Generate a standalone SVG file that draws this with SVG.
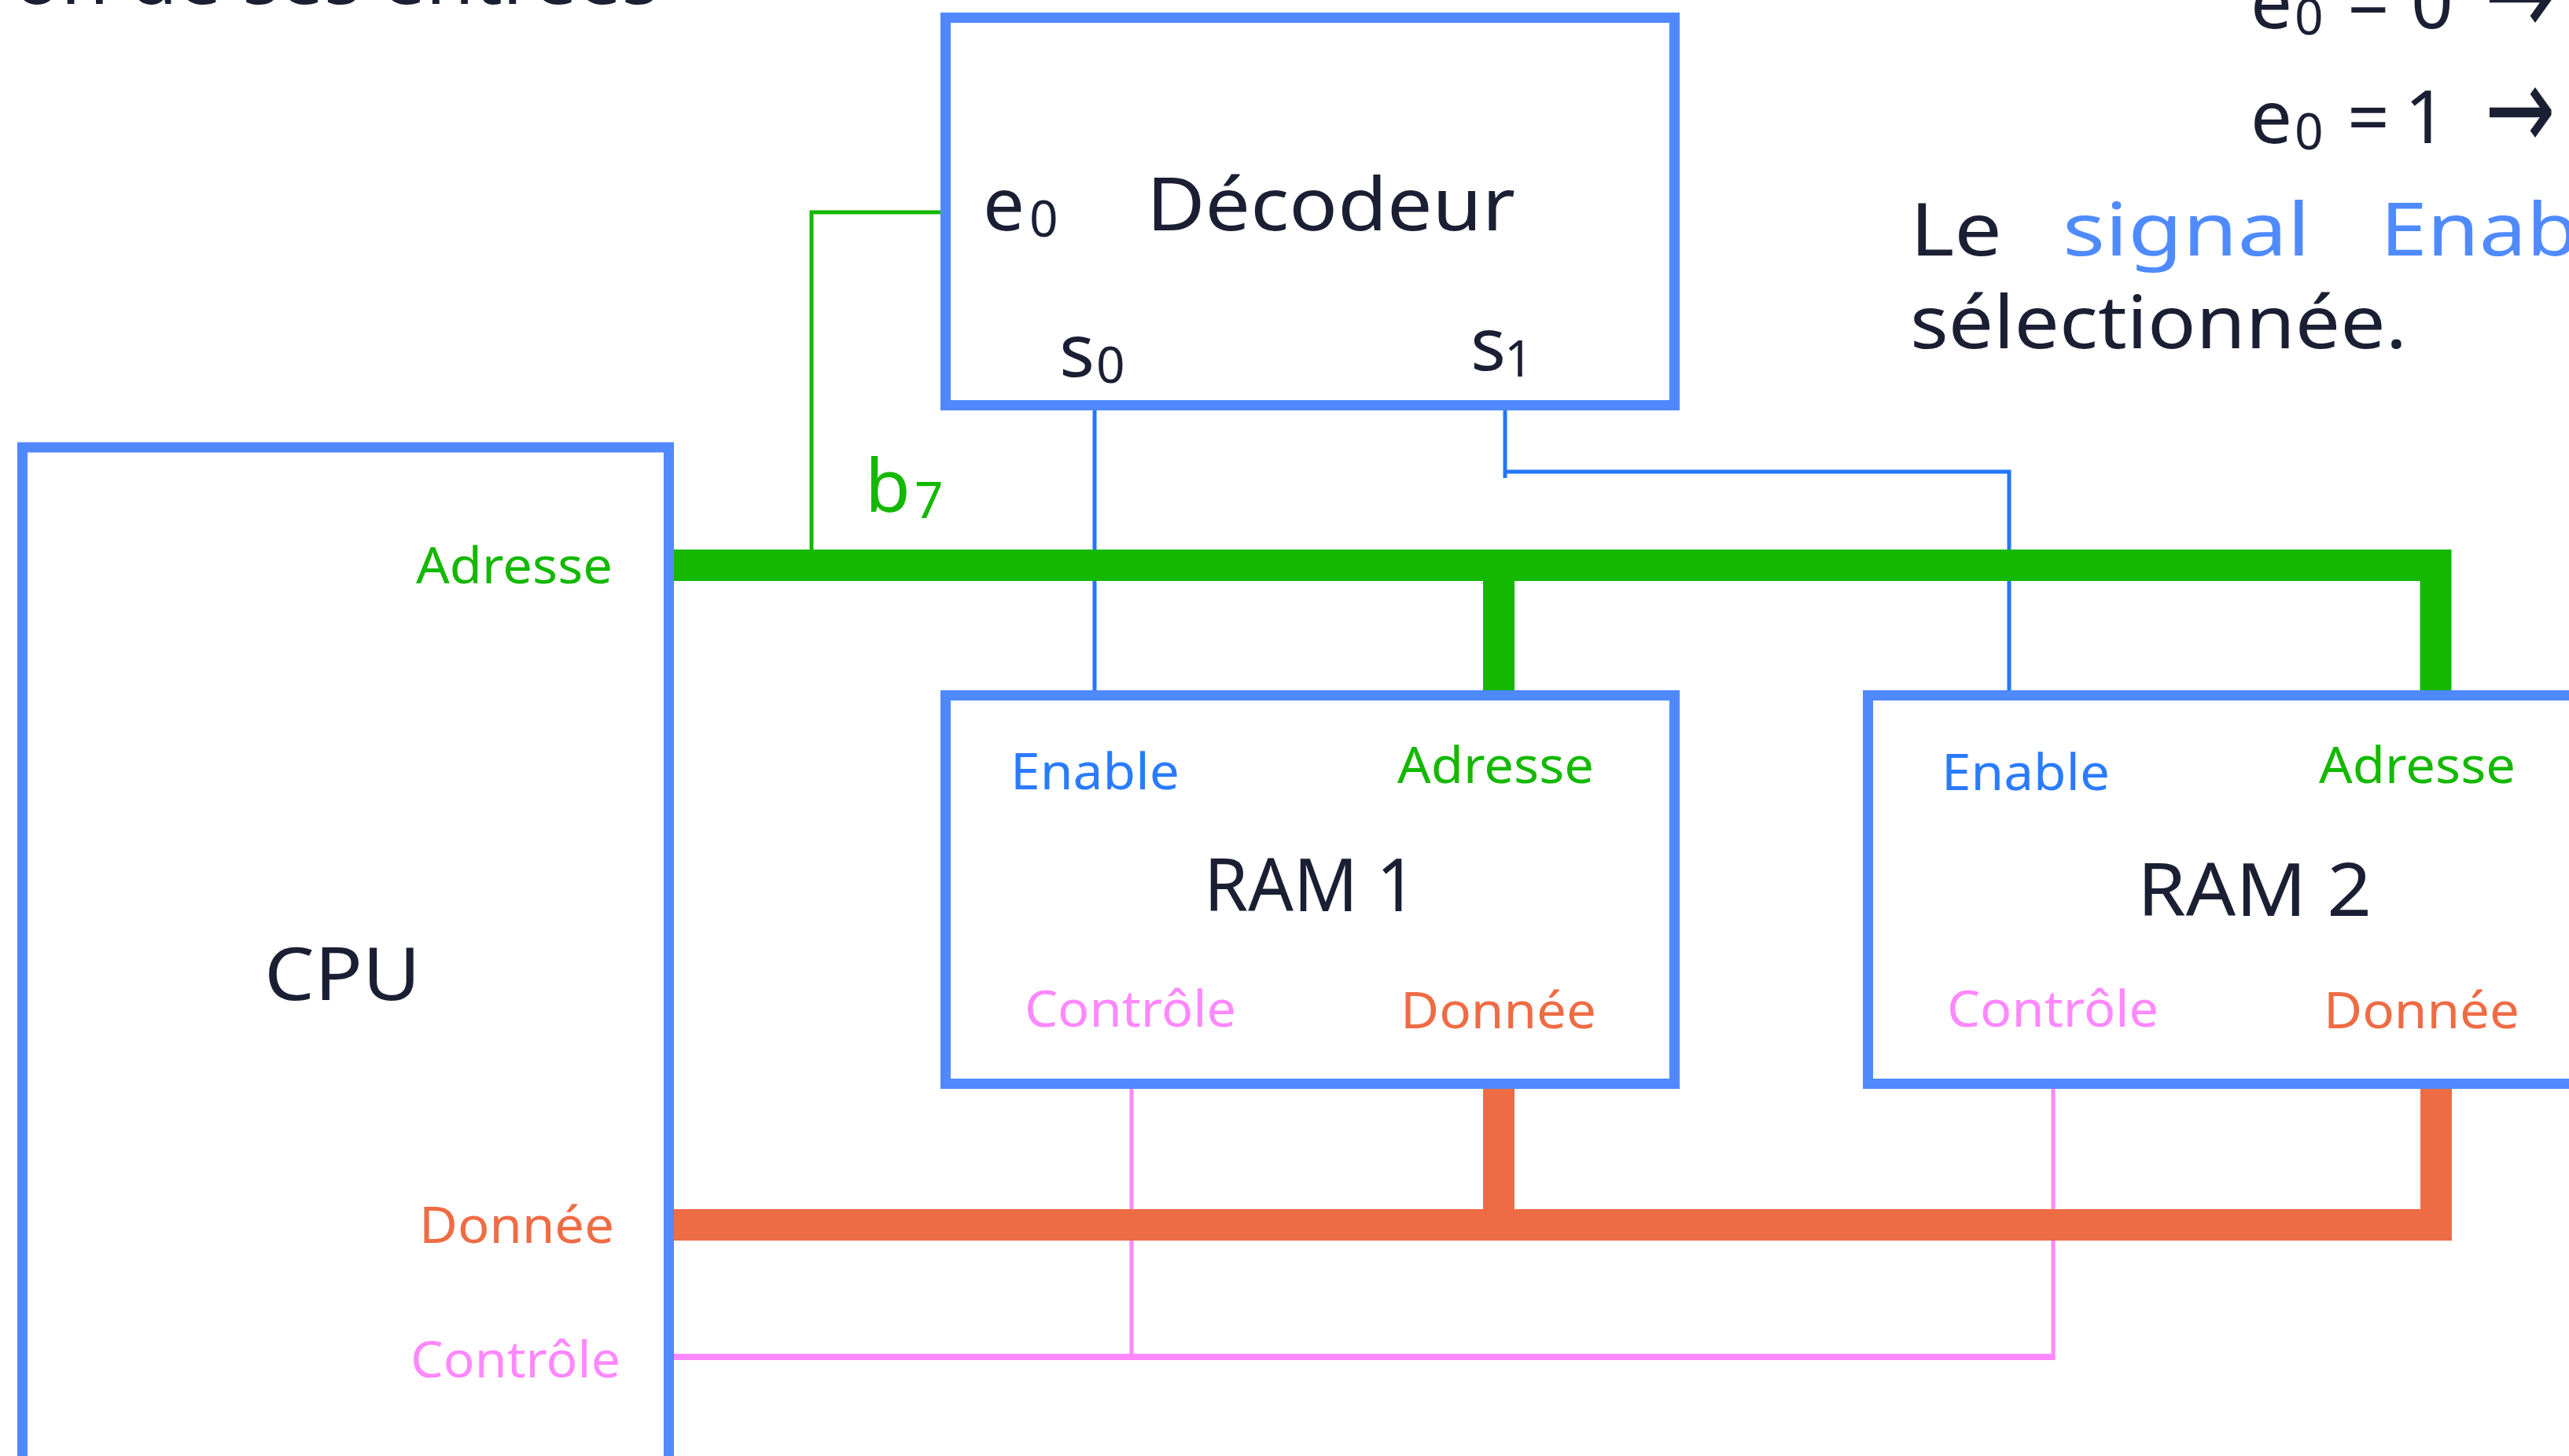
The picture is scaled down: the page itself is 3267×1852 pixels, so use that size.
<svg xmlns="http://www.w3.org/2000/svg" width="3267" height="1852" viewBox="0 0 3267 1852">
<style>
text{font-family:"Noto Sans","DejaVu Sans",sans-serif}
.big{font-size:94px;fill:#1a1f33}
.lab{font-size:64px}
.sub{font-size:64px}
.dark{fill:#1a1f33}
.grn{fill:#14b800}
.org{fill:#ee6c44}
.pnk{fill:#ff88ff}
.blu{fill:#2a7bff}
.acc{fill:#4f8bff}
.arr{font-family:"DejaVu Sans",sans-serif;font-size:150px;fill:#1a1f33}
.box{fill:#fff;stroke:#4f88ff;stroke-width:13}
.thin{fill:none;stroke-width:5;stroke-linecap:butt}
.bus{fill:none;stroke-width:40;stroke-linejoin:miter;stroke-linecap:butt}
</style>
<rect width="3267" height="1852" fill="#fff"/>
<g id="connectors">
  <path class="thin" stroke="#14b800" d="M1196 270 H1032 V699"/>
  <path class="thin" stroke="#2176ff" d="M1392 522 V878"/>
  <path class="thin" stroke="#2176ff" d="M1914 522 V608 M1911.5 600 H2557.5 M2555 600 V878"/>
  <path class="thin" stroke="#ff88ff" d="M1439 1385 V1726 M2611 1385 V1730"/>
  <path fill="none" stroke="#ff88ff" stroke-width="8" d="M857 1726 H2613.5"/>
  <path class="bus" stroke="#14b800" d="M857 719 H3097.5 V878 M1906 719 V878"/>
  <path class="bus" stroke="#ee6c44" d="M857 1558 H3098 V1385 M1906 1558 V1385"/>
</g>
<g id="cpu">
  <rect class="box" x="28.5" y="569" width="822" height="1400"/>
  <text class="big" x="336" y="1272" textLength="199" lengthAdjust="spacingAndGlyphs">CPU</text>
  <text class="lab grn" x="529" y="742" textLength="250" lengthAdjust="spacingAndGlyphs">Adresse</text>
  <text class="lab org" x="533" y="1581" textLength="248" lengthAdjust="spacingAndGlyphs">Donnée</text>
  <text class="lab pnk" x="522" y="1752" textLength="267" lengthAdjust="spacingAndGlyphs">Contrôle</text>
</g>
<g id="decoder">
  <rect class="box" x="1202.5" y="22.5" width="927" height="493"/>
  <text class="big" x="1250" y="293">e</text>
  <text class="sub dark" x="1309" y="301">0</text>
  <text class="big" x="1458" y="293" textLength="469" lengthAdjust="spacingAndGlyphs">Décodeur</text>
  <text class="big" x="1347" y="479">s</text>
  <text class="sub dark" x="1394" y="487">0</text>
  <text class="big" x="1870" y="471">s</text>
  <text class="sub dark" x="1913" y="479">1</text>
</g>
<g id="b7-label">
  <text class="big grn" x="1100" y="651">b</text>
  <text class="sub grn" x="1163" y="659">7</text>
</g>
<g id="ram1">
  <rect class="box" x="1202.5" y="884.5" width="927" height="494"/>
  <text class="lab blu" x="1285" y="1004" textLength="215" lengthAdjust="spacingAndGlyphs">Enable</text>
  <text class="lab grn" x="1777" y="996" textLength="250" lengthAdjust="spacingAndGlyphs">Adresse</text>
  <text class="big" x="1531" y="1159" textLength="271" lengthAdjust="spacingAndGlyphs">RAM 1</text>
  <text class="lab pnk" x="1303" y="1306" textLength="269" lengthAdjust="spacingAndGlyphs">Contrôle</text>
  <text class="lab org" x="1781" y="1308" textLength="249" lengthAdjust="spacingAndGlyphs">Donnée</text>
</g>
<g id="ram2">
  <rect class="box" x="2375.5" y="884.5" width="1000" height="494"/>
  <text class="lab blu" x="2469" y="1005" textLength="214" lengthAdjust="spacingAndGlyphs">Enable</text>
  <text class="lab grn" x="2949" y="996" textLength="250" lengthAdjust="spacingAndGlyphs">Adresse</text>
  <text class="big" x="2718" y="1165" textLength="298" lengthAdjust="spacingAndGlyphs">RAM 2</text>
  <text class="lab pnk" x="2476" y="1306" textLength="269" lengthAdjust="spacingAndGlyphs">Contrôle</text>
  <text class="lab org" x="2955" y="1308" textLength="249" lengthAdjust="spacingAndGlyphs">Donnée</text>
</g>
<g id="notes">
  <text class="big" x="17" y="5" textLength="821" lengthAdjust="spacingAndGlyphs">on de ses entrées</text>
  <text class="big" x="2862" y="36">e</text>
  <text class="sub dark" x="2918" y="44">0</text>
  <text class="big" x="2985" y="36">=</text>
  <text class="big" x="3066" y="36">0</text>
  <text class="arr" x="3160" y="44" textLength="90" lengthAdjust="spacingAndGlyphs">→</text>
  <text class="big" x="2862" y="182">e</text>
  <text class="sub dark" x="2918" y="190">0</text>
  <text class="big" x="2985" y="182">=</text>
  <text class="big" x="3058" y="182">1</text>
  <text class="arr" x="3160" y="190" textLength="90" lengthAdjust="spacingAndGlyphs">→</text>
  <text class="big" x="2429" y="325" textLength="117" lengthAdjust="spacingAndGlyphs">Le</text>
  <text class="big acc" x="2623" y="325" textLength="315" lengthAdjust="spacingAndGlyphs">signal</text>
  <text class="big acc" x="3027" y="325" textLength="340" lengthAdjust="spacingAndGlyphs">Enable</text>
  <text class="big" x="2429" y="443" textLength="632" lengthAdjust="spacingAndGlyphs">sélectionnée.</text>
</g>
</svg>
